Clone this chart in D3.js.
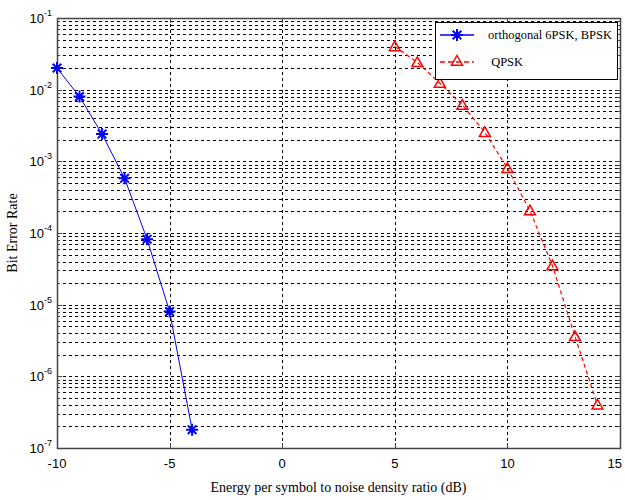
<!DOCTYPE html>
<html>
<head>
<meta charset="utf-8">
<script src="https://cdn.jsdelivr.net/npm/d3@7"></script>
<style>
  body { margin: 0; background: #fff; }
  svg { display: block; }
</style>
</head>
<body>
<svg id="chart" width="625" height="500"></svg>
<script>
// data
var bpskX = [-10, -9, -8, -7, -6, -5, -4];
var bpskBer = [0.020, 8.0e-3, 2.4e-3, 5.8e-4, 8.2e-5, 8.0e-6, 1.8e-7];
var qpskX = [5, 6, 7, 8, 9, 10, 11, 12, 13, 14];
var qpskBer = [0.040, 0.024, 0.0123, 6.1e-3, 2.54e-3, 8.0e-4, 2.05e-4, 3.5e-5, 3.6e-6, 4.0e-7];
var xTicks = [-10, -5, 0, 5, 10, 15];
var yExponents = [-1, -2, -3, -4, -5, -6, -7];
var legendLabels = ["orthogonal 6PSK, BPSK", " QPSK"];

var pLeft = 57, pRight = 620, pTop = 18, pBottom = 448;
var svg = d3.select("#chart");

var x = d3.scaleLinear().domain([-10, 15]).range([pLeft, pRight]);
var y = d3.scaleLog().domain([1e-7, 1e-1]).range([pBottom, pTop]);

// grid lines
var minors = [];
for (var e = -7; e < -1; e++) {
  for (var m = 2; m <= 9; m++) minors.push(m * Math.pow(10, e));
}
var grid = svg.append("g").attr("stroke", "#000").attr("stroke-width", 1)
  .attr("stroke-dasharray", "3,3");
minors.concat(yExponents.slice(1, -1).map(function(p){ return Math.pow(10, p); }))
  .forEach(function(v){
    var yy = Math.round(y(v)) + 0.5;
    grid.append("line").attr("x1", pLeft).attr("x2", pRight).attr("y1", yy).attr("y2", yy);
  });
xTicks.slice(1, -1).forEach(function(v){
  var xx = Math.round(x(v)) + 0.5;
  grid.append("line").attr("x1", xx).attr("x2", xx).attr("y1", pTop).attr("y2", pBottom);
});

// ticks on all four sides
var ticks = svg.append("g").attr("stroke", "#444").attr("stroke-width", 1);
xTicks.forEach(function(v){
  var xx = Math.round(x(v)) + 0.5;
  ticks.append("line").attr("x1", xx).attr("x2", xx).attr("y1", pBottom).attr("y2", pBottom - 5);
  ticks.append("line").attr("x1", xx).attr("x2", xx).attr("y1", pTop).attr("y2", pTop + 5);
});
yExponents.forEach(function(p){
  var yy = Math.round(y(Math.pow(10, p))) + 0.5;
  ticks.append("line").attr("x1", pLeft).attr("x2", pLeft + 5).attr("y1", yy).attr("y2", yy);
  ticks.append("line").attr("x1", pRight).attr("x2", pRight - 5).attr("y1", yy).attr("y2", yy);
});
minors.forEach(function(v){
  var yy = Math.round(y(v)) + 0.5;
  ticks.append("line").attr("x1", pLeft).attr("x2", pLeft + 3).attr("y1", yy).attr("y2", yy);
  ticks.append("line").attr("x1", pRight).attr("x2", pRight - 3).attr("y1", yy).attr("y2", yy);
});

// frame
svg.append("rect").attr("x", pLeft + 0.5).attr("y", pTop + 0.5)
  .attr("width", pRight - pLeft).attr("height", pBottom - pTop)
  .attr("fill", "none").attr("stroke", "#444").attr("stroke-width", 1.5);

// tick labels
var xl = svg.append("g").attr("font-family", "Liberation Sans, Arial, sans-serif")
  .attr("font-size", 13).attr("fill", "#000");
xTicks.forEach(function(v, i){
  var last = i === xTicks.length - 1;
  xl.append("text").attr("x", last ? 622 : x(v)).attr("y", pBottom + 20)
    .attr("text-anchor", last ? "end" : "middle")
    .text(v < 0 ? "-" + Math.abs(v) : v);
});
yExponents.forEach(function(p){
  var t = xl.append("text").attr("x", pLeft - 5).attr("y", y(Math.pow(10, p)) + 5)
    .attr("text-anchor", "end");
  t.append("tspan").text("10");
  t.append("tspan").attr("dy", -7).attr("font-size", 9).text(p);
});

// axis titles
svg.append("text").attr("x", (pLeft + pRight) / 2).attr("y", 492)
  .attr("text-anchor", "middle").attr("font-family", "Liberation Serif, Times New Roman, serif")
  .attr("font-size", 14).text("Energy per symbol to noise density ratio (dB)");
svg.append("text").attr("transform", "translate(17," + ((pTop + pBottom) / 2) + ") rotate(-90)")
  .attr("text-anchor", "middle").attr("font-family", "Liberation Serif, Times New Roman, serif")
  .attr("font-size", 14).text("Bit Error Rate");

// markers
function star(g, cx, cy, r, color) {
  var d = "M" + (cx - r) + "," + cy + "H" + (cx + r) +
    "M" + cx + "," + (cy - r) + "V" + (cy + r);
  var k = r * 0.72;
  d += "M" + (cx - k) + "," + (cy - k) + "L" + (cx + k) + "," + (cy + k) +
    "M" + (cx - k) + "," + (cy + k) + "L" + (cx + k) + "," + (cy - k);
  g.append("path").attr("d", d).attr("stroke", color).attr("stroke-width", 2).attr("fill", "none");
}
function tri(g, cx, cy, r, color) {
  var d = "M" + cx + "," + (cy - r) + "L" + (cx + r) + "," + (cy + r * 0.75) +
    "L" + (cx - r) + "," + (cy + r * 0.75) + "Z";
  g.append("path").attr("d", d).attr("stroke", color).attr("stroke-width", 1.5).attr("fill", "none");
}

var line = d3.line().x(function(d){ return x(d[0]); }).y(function(d){ return y(d[1]); });
var bpsk = d3.zip(bpskX, bpskBer);
var qpsk = d3.zip(qpskX, qpskBer);

var plot = svg.append("g");
plot.append("path").datum(bpsk).attr("d", line).attr("fill", "none")
  .attr("stroke", "#0000ff").attr("stroke-width", 1);
bpsk.forEach(function(d){ star(plot, x(d[0]), y(d[1]), 6, "#0000ff"); });
plot.append("path").datum(qpsk).attr("d", line).attr("fill", "none")
  .attr("stroke", "#ff0000").attr("stroke-width", 1.2).attr("stroke-dasharray", "4,3");
qpsk.forEach(function(d){ tri(plot, x(d[0]), y(d[1]), 5.5, "#ff0000"); });

// legend
var lg = svg.append("g");
lg.append("rect").attr("x", 435.5).attr("y", 22.5).attr("width", 182).attr("height", 57)
  .attr("fill", "#fff").attr("stroke", "#000").attr("stroke-width", 1);
lg.append("line").attr("x1", 440).attr("x2", 474).attr("y1", 35).attr("y2", 35)
  .attr("stroke", "#0000ff").attr("stroke-width", 1.5);
star(lg, 457, 35, 6, "#0000ff");
lg.append("line").attr("x1", 440).attr("x2", 474).attr("y1", 62).attr("y2", 62)
  .attr("stroke", "#ff0000").attr("stroke-width", 1.5).attr("stroke-dasharray", "5,3");
tri(lg, 457, 61, 5.5, "#ff0000");
legendLabels.forEach(function(s, i){
  lg.append("text").attr("x", 488).attr("y", 39 + i * 27)
    .attr("font-family", "Liberation Serif, Times New Roman, serif").attr("font-size", 12.5)
    .attr("xml:space", "preserve").text(s);
});
</script>
</body>
</html>
